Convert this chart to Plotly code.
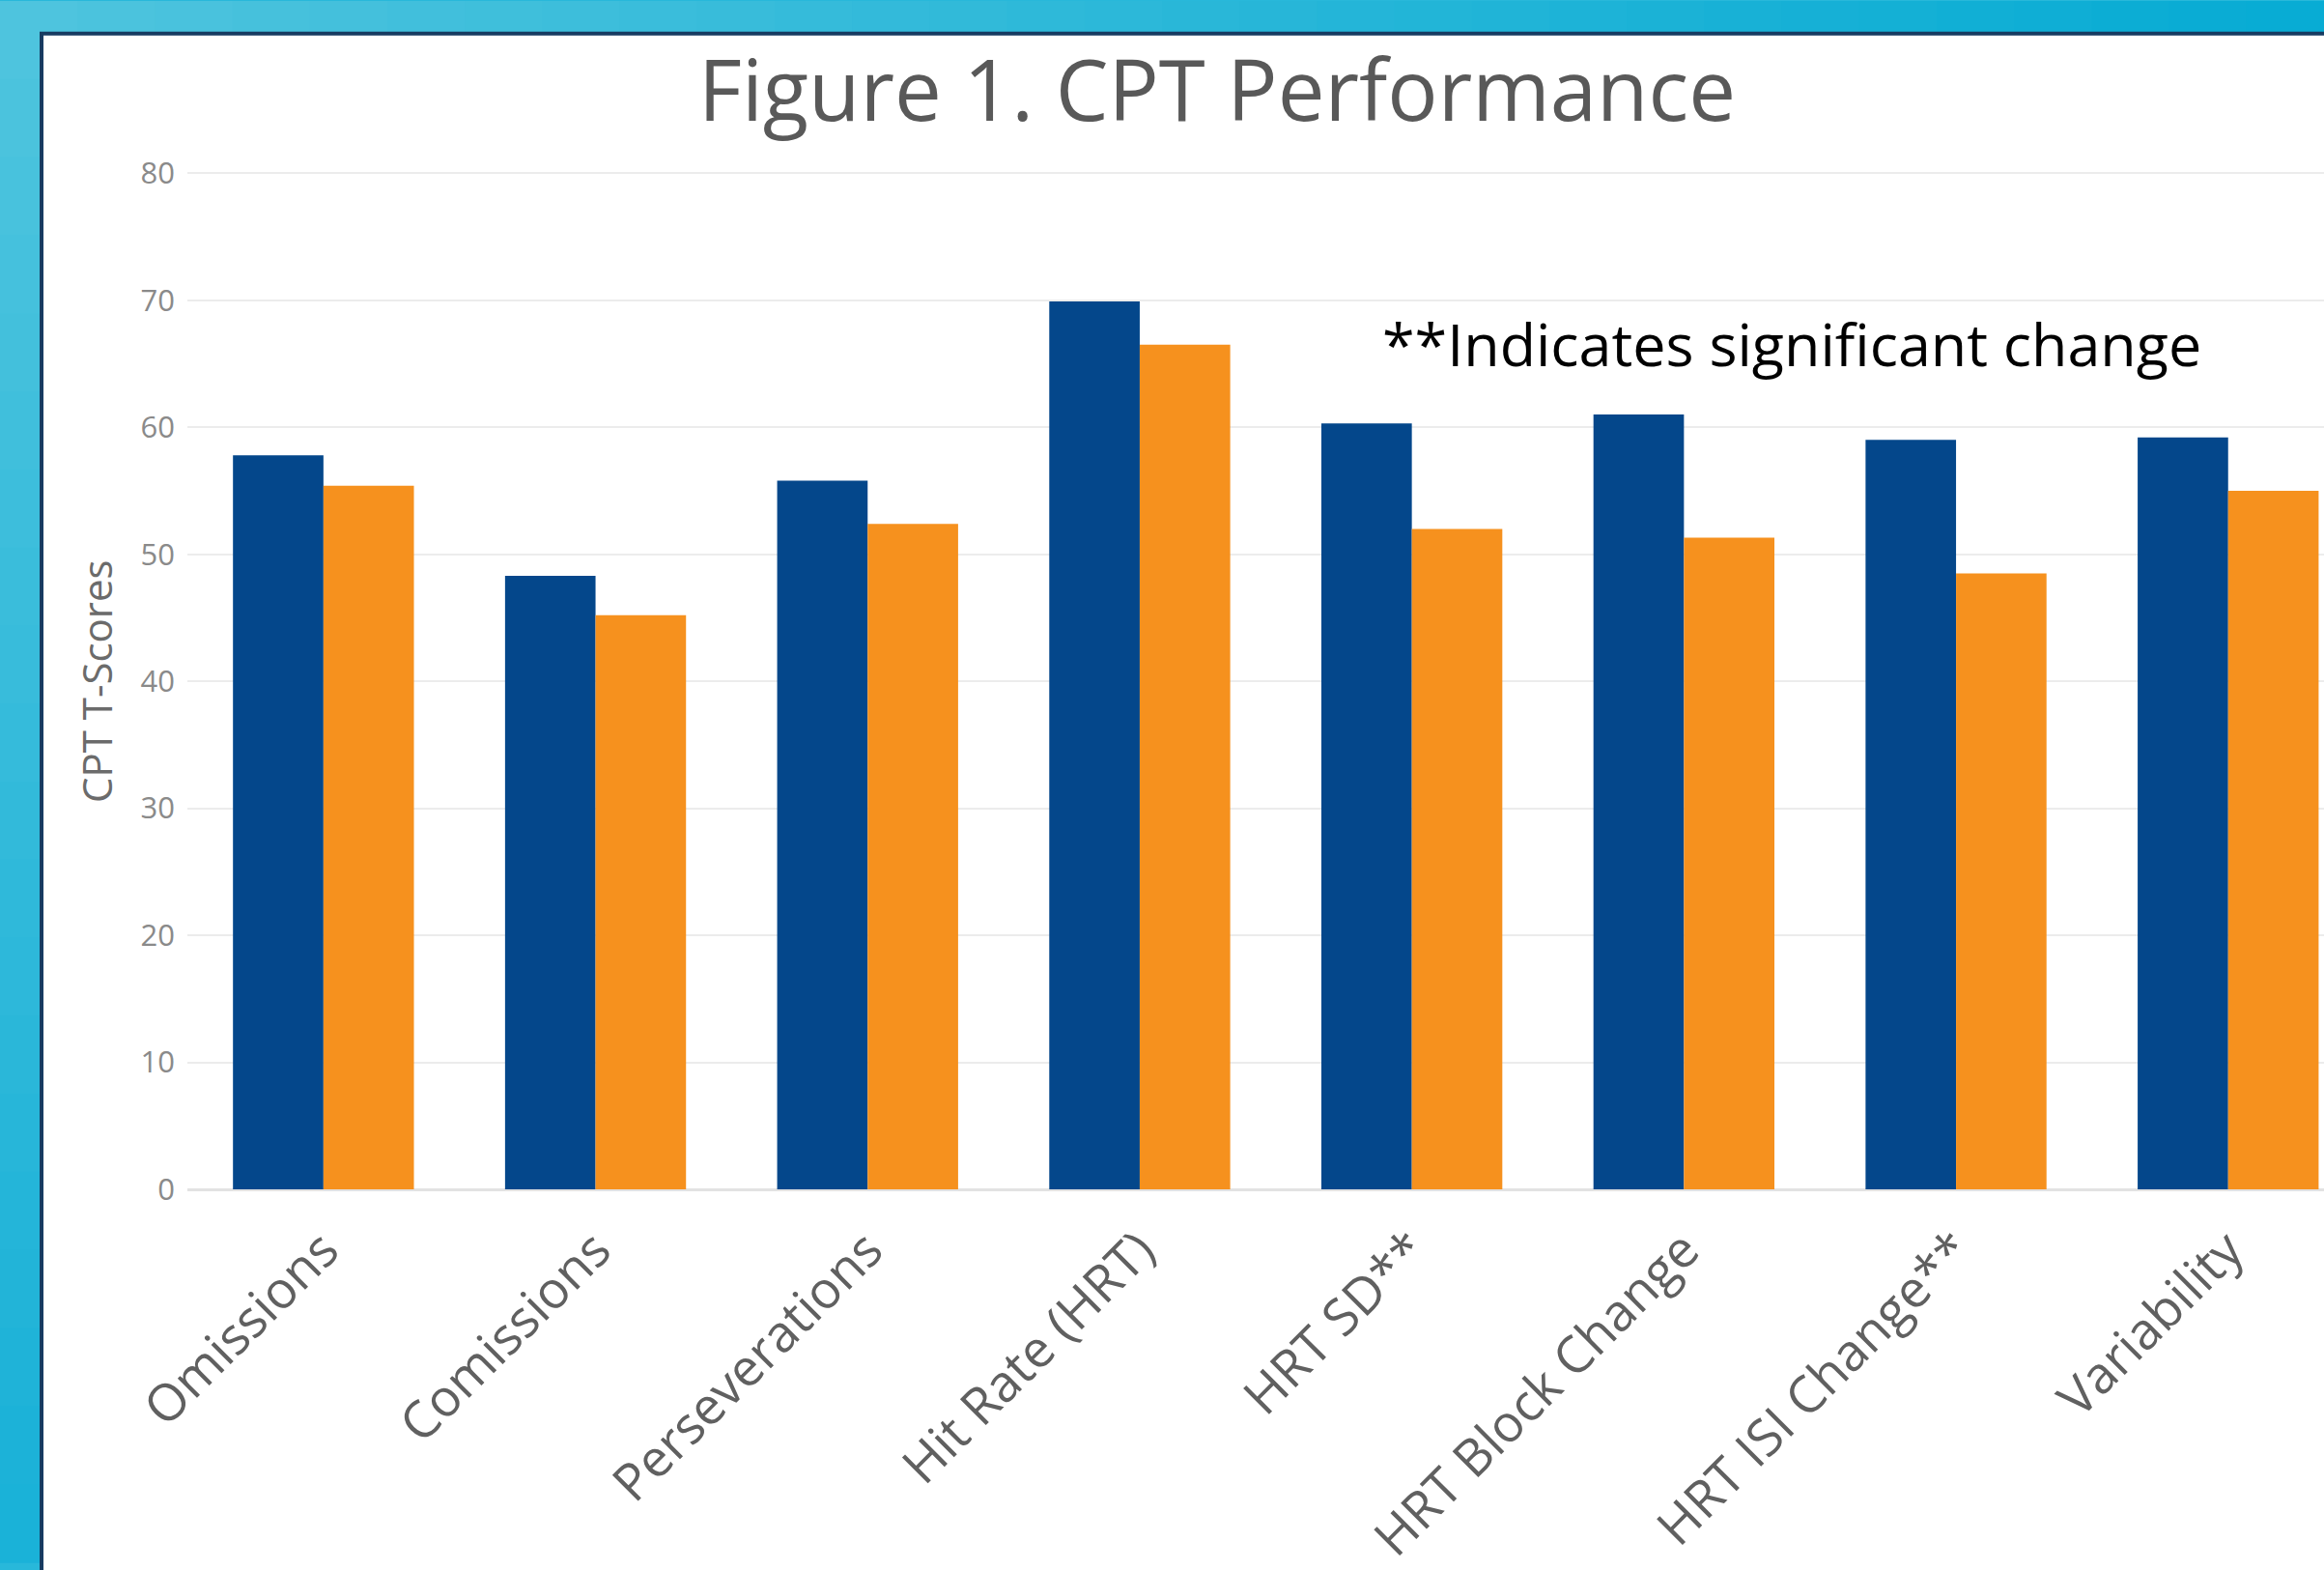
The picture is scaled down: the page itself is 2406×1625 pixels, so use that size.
import plotly.graph_objects as go

# ---------------- data ----------------
categories = ["Omissions", "Comissions", "Perseverations", "Hit Rate (HRT)",
              "HRT SD**", "HRT Block Change", "HRT ISI Change**", "Variability"]
pre_scores = [57.8, 48.3, 55.8, 69.9, 60.3, 61.0, 59.0, 59.2]
post_scores = [55.4, 45.2, 52.4, 66.5, 52.0, 51.3, 48.5, 55.0]
y_ticks = [0, 10, 20, 30, 40, 50, 60, 70, 80]
y_max = 80.25

# ---------------- layout geometry ----------------
W, H = 2406, 1625
PX_PER_UNIT = (1237 - 179.5) / 80.0
ML, MR, MB = 194, 0, 1625 - 1237
MT = int(round(1237 - y_max * PX_PER_UNIT))
PW, PH = W - ML - MR, H - MT - MB


def px2x(px):
    return (px - ML) / PW


def py2y(py):
    return (H - MB - py) / PH


BLUE = "#04478B"
ORANGE = "#F6911E"

fig = go.Figure()
fig.add_trace(go.Bar(x=categories, y=pre_scores, name="Pre",
                     marker=dict(color=BLUE, line=dict(width=0))))
fig.add_trace(go.Bar(x=categories, y=post_scores, name="Post",
                     marker=dict(color=ORANGE, line=dict(width=0))))

# background gradient strips (top & left), then white panel
shapes = []
c0 = (78, 196, 222)
c_right = (8, 172, 212)
c_bottom = (26, 178, 216)
n = 30
for i in range(n):
    t = i / (n - 1)
    col = tuple(int(c0[k] + (c_right[k] - c0[k]) * t) for k in range(3))
    x0 = i * W / n
    x1 = (i + 1) * W / n + 1
    shapes.append(dict(type="rect", xref="paper", yref="paper", layer="below",
                       x0=px2x(x0), x1=px2x(x1), y0=py2y(0), y1=py2y(40),
                       fillcolor="rgb(%d,%d,%d)" % col, line=dict(width=0)))
m = 20
for i in range(m):
    t = i / (m - 1)
    col = tuple(int(c0[k] + (c_bottom[k] - c0[k]) * t) for k in range(3))
    y0 = i * H / m
    y1 = (i + 1) * H / m + 1
    shapes.append(dict(type="rect", xref="paper", yref="paper", layer="below",
                       x0=px2x(0), x1=px2x(46), y0=py2y(y0), y1=py2y(y1),
                       fillcolor="rgb(%d,%d,%d)" % col, line=dict(width=0)))
shapes.append(dict(type="rect", xref="paper", yref="paper", layer="below",
                   x0=px2x(43), x1=px2x(W + 40), y0=py2y(34), y1=py2y(H + 40),
                   fillcolor="white", line=dict(color="#173B61", width=4)))

annotations = [
    dict(text="**Indicates significant change", xref="paper", yref="paper",
         x=px2x(1429), y=py2y(357), xanchor="left", yanchor="middle",
         showarrow=False, font=dict(family="Open Sans", size=61, color="#000000")),
    dict(text="CPT T-Scores", xref="paper", yref="paper",
         x=px2x(100), y=py2y(708), xanchor="center", yanchor="middle", textangle=-90,
         showarrow=False, font=dict(family="Open Sans", size=42, color="#6b6b6b")),
]

fig.update_layout(
    width=W, height=H,
    margin=dict(l=ML, r=MR, t=MT, b=MB, pad=0),
    paper_bgcolor="rgb(40,184,218)",
    plot_bgcolor="rgba(0,0,0,0)",
    showlegend=False,
    barmode="group",
    bargap=0.335,
    bargroupgap=0,
    title=dict(text="Figure 1. CPT Performance", x=1260 / W, xanchor="center",
               y=1 - 95 / H, yanchor="middle", xref="container", yref="container",
               font=dict(family="Open Sans", size=87, color="#595959")),
    shapes=shapes,
    annotations=annotations,
    xaxis=dict(range=[-0.5, -0.5 + PW / 281.7], showgrid=False, zeroline=False,
               showline=False, ticks="", tickangle=-45, ticklabelstandoff=20,
               tickfont=dict(family="Open Sans", size=53, color="#606060")),
    yaxis=dict(range=[0, y_max], tickvals=y_ticks, showgrid=True, gridcolor="#ececec",
               gridwidth=2, zeroline=True, zerolinecolor="#e2e2e2", zerolinewidth=3,
               showline=False, ticks="", ticklabelstandoff=12,
               tickfont=dict(family="Open Sans", size=31, color="#8a8a8a")),
)

fig.write_html(
    "out.html",
    config={"displayModeBar": False},
    post_script="document.body.style.margin='0px';document.body.style.padding='0px';"
                "document.body.style.overflow='hidden';",
)
